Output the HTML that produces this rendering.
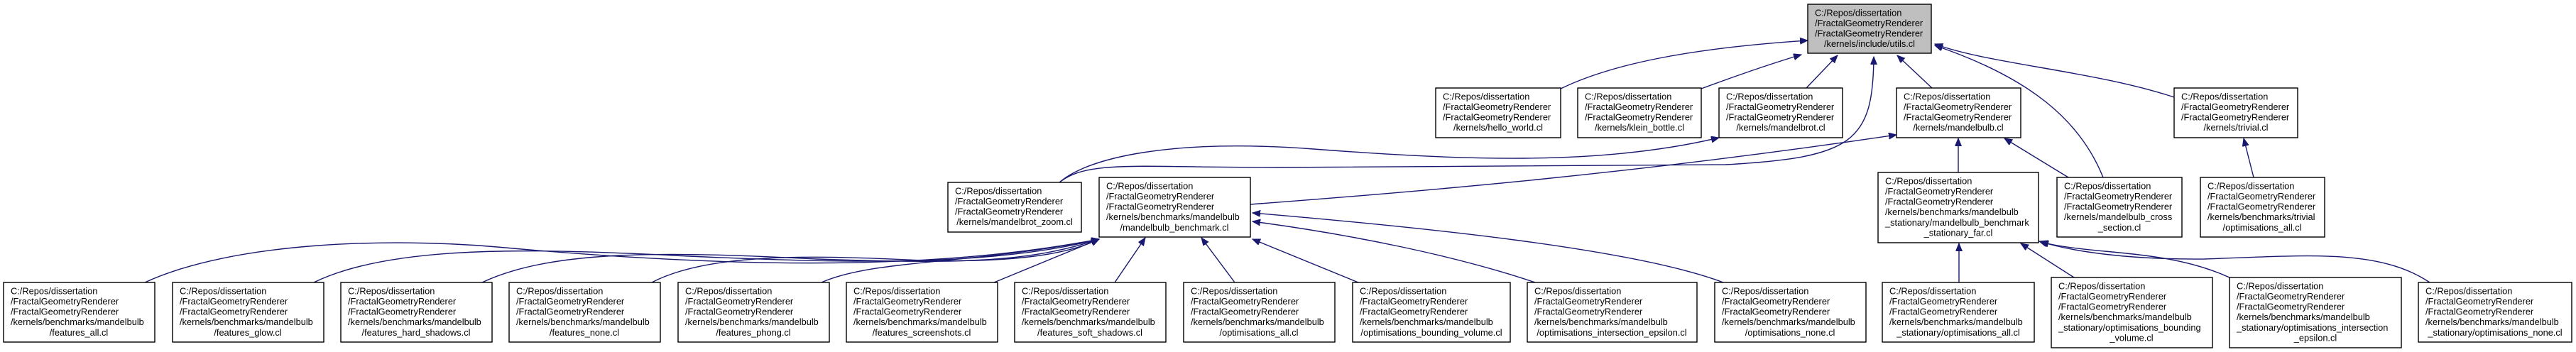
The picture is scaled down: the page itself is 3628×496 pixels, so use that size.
<!DOCTYPE html>
<html><head><meta charset="utf-8"><style>
html,body{margin:0;padding:0;background:#fff;}
svg{display:block;}
text{font-family:"Liberation Sans",Arial,sans-serif;font-size:12.8px;fill:#000;}
.b{fill:#fff;stroke:#000;stroke-width:1.4;}
.e{fill:none;stroke:#191970;stroke-width:1.4;marker-end:url(#a);}
</style></head><body>
<svg width="3628" height="496" viewBox="0 0 3628 496" xmlns="http://www.w3.org/2000/svg">
<defs><marker id="a" markerUnits="userSpaceOnUse" markerWidth="12" markerHeight="10" refX="11" refY="4.5" orient="auto"><path d="M0,0 L11,4.5 L0,9 z" fill="#191970" stroke="#191970"/></marker></defs>

<!-- edges to utils -->
<path class="e" d="M2198,125 C2270,90 2380,68 2546,57"/>
<path class="e" d="M2396,125 C2450,105 2500,88 2537,77"/>
<path class="e" d="M2544,124 L2588,78"/>
<path class="e" d="M2721,124 L2672,78"/>
<path class="e" d="M1491,258 C1530,225 1600,236 1800,236 L2430,232 C2610,222 2638,200 2639,80"/>
<path class="e" d="M2962,250 C2930,170 2860,110 2725,64"/>
<path class="e" d="M3062,137 C2950,100 2800,90 2725,62"/>
<!-- other mid edges -->
<path class="e" d="M1491,258 C1530,222 1650,195 1850,210 C2050,225 2250,235 2421,194"/>
<path class="e" d="M1761,288 C2000,270 2300,245 2671,190"/>
<path class="e" d="M2758,243 L2758,195"/>
<path class="e" d="M2913,250 L2823,195"/>
<path class="e" d="M3174,250 L3160,195"/>
<!-- bottom to stationary far -->
<path class="e" d="M2759,398 L2759,343"/>
<path class="e" d="M2921,391 L2846,343"/>
<path class="e" d="M3140,391 C3050,350 2950,360 2874,341"/>
<path class="e" d="M3422,398 C3350,350 3250,360 3105,365 C3000,366 2920,355 2872,340"/>
<!-- bottom to benchmark -->
<path class="e" d="M204,398 C330,340 550,335 700,348 C1000,375 1300,385 1548,337"/>
<path class="e" d="M442,398 C550,345 750,350 950,360 C1200,372 1400,375 1548,337"/>
<path class="e" d="M679,398 C780,350 950,355 1150,365 C1350,372 1450,370 1548,337"/>
<path class="e" d="M918,398 C1000,355 1150,360 1300,367 C1420,370 1500,360 1548,337"/>
<path class="e" d="M1157,398 C1230,365 1380,372 1548,337"/>
<path class="e" d="M1400,398 L1548,337"/>
<path class="e" d="M1570,398 L1613,335"/>
<path class="e" d="M1739,398 L1692,335"/>
<path class="e" d="M1913,398 L1764,337"/>
<path class="e" d="M2162,398 C2050,360 1900,330 1764,312"/>
<path class="e" d="M2427,398 C2300,350 2000,320 1764,300"/>

<!-- nodes -->
<rect x="2546" y="6" width="174" height="69" fill="#bfbfbf" stroke="#000" stroke-width="1.4"/>
<text x="2556" y="22.5">C:/Repos/dissertation</text><text x="2556" y="37">/FractalGeometryRenderer</text><text x="2556" y="51.6">/FractalGeometryRenderer</text><text x="2633" y="66.2" text-anchor="middle">/kernels/include/utils.cl</text>

<g>
<rect class="b" x="2022" y="124" width="176" height="70"/>
<text x="2032" y="140.5">C:/Repos/dissertation</text><text x="2032" y="155">/FractalGeometryRenderer</text><text x="2032" y="169.6">/FractalGeometryRenderer</text><text x="2110" y="184.2" text-anchor="middle">/kernels/hello_world.cl</text>
<rect class="b" x="2222" y="124" width="174" height="70"/>
<text x="2232" y="140.5">C:/Repos/dissertation</text><text x="2232" y="155">/FractalGeometryRenderer</text><text x="2232" y="169.6">/FractalGeometryRenderer</text><text x="2309" y="184.2" text-anchor="middle">/kernels/klein_bottle.cl</text>
<rect class="b" x="2421" y="124" width="174" height="70"/>
<text x="2431" y="140.5">C:/Repos/dissertation</text><text x="2431" y="155">/FractalGeometryRenderer</text><text x="2431" y="169.6">/FractalGeometryRenderer</text><text x="2508" y="184.2" text-anchor="middle">/kernels/mandelbrot.cl</text>
<rect class="b" x="2671" y="124" width="175" height="70"/>
<text x="2681" y="140.5">C:/Repos/dissertation</text><text x="2681" y="155">/FractalGeometryRenderer</text><text x="2681" y="169.6">/FractalGeometryRenderer</text><text x="2758" y="184.2" text-anchor="middle">/kernels/mandelbulb.cl</text>
<rect class="b" x="3062" y="124" width="174" height="70"/>
<text x="3072" y="140.5">C:/Repos/dissertation</text><text x="3072" y="155">/FractalGeometryRenderer</text><text x="3072" y="169.6">/FractalGeometryRenderer</text><text x="3149" y="184.2" text-anchor="middle">/kernels/trivial.cl</text>
</g>

<g>
<rect class="b" x="1335" y="257" width="188" height="70"/>
<text x="1345" y="273.5">C:/Repos/dissertation</text><text x="1345" y="288">/FractalGeometryRenderer</text><text x="1345" y="302.6">/FractalGeometryRenderer</text><text x="1429" y="317.2" text-anchor="middle">/kernels/mandelbrot_zoom.cl</text>
<rect class="b" x="1548" y="250" width="213" height="84"/>
<text x="1558" y="266.5">C:/Repos/dissertation</text><text x="1558" y="281">/FractalGeometryRenderer</text><text x="1558" y="295.6">/FractalGeometryRenderer</text><text x="1558" y="310.2">/kernels/benchmarks/mandelbulb</text><text x="1654" y="324.8" text-anchor="middle">/mandelbulb_benchmark.cl</text>
<rect class="b" x="2645" y="243" width="226" height="99"/>
<text x="2655" y="259.5">C:/Repos/dissertation</text><text x="2655" y="274">/FractalGeometryRenderer</text><text x="2655" y="288.6">/FractalGeometryRenderer</text><text x="2655" y="303.2">/kernels/benchmarks/mandelbulb</text><text x="2655" y="317.8">_stationary/mandelbulb_benchmark</text><text x="2758" y="332.4" text-anchor="middle">_stationary_far.cl</text>
<rect class="b" x="2897" y="250" width="176" height="84"/>
<text x="2907" y="266.5">C:/Repos/dissertation</text><text x="2907" y="281">/FractalGeometryRenderer</text><text x="2907" y="295.6">/FractalGeometryRenderer</text><text x="2907" y="310.2">/kernels/mandelbulb_cross</text><text x="2985" y="324.8" text-anchor="middle">_section.cl</text>
<rect class="b" x="3099" y="250" width="175" height="84"/>
<text x="3109" y="266.5">C:/Repos/dissertation</text><text x="3109" y="281">/FractalGeometryRenderer</text><text x="3109" y="295.6">/FractalGeometryRenderer</text><text x="3109" y="310.2">/kernels/benchmarks/trivial</text><text x="3186" y="324.8" text-anchor="middle">/optimisations_all.cl</text>
</g>

<g>
<rect class="b" x="5" y="398" width="213" height="84"/>
<text x="15" y="414.5">C:/Repos/dissertation</text><text x="15" y="429">/FractalGeometryRenderer</text><text x="15" y="443.6">/FractalGeometryRenderer</text><text x="15" y="458.2">/kernels/benchmarks/mandelbulb</text><text x="111" y="472.8" text-anchor="middle">/features_all.cl</text>
<rect class="b" x="243" y="398" width="213" height="84"/>
<text x="253" y="414.5">C:/Repos/dissertation</text><text x="253" y="429">/FractalGeometryRenderer</text><text x="253" y="443.6">/FractalGeometryRenderer</text><text x="253" y="458.2">/kernels/benchmarks/mandelbulb</text><text x="349" y="472.8" text-anchor="middle">/features_glow.cl</text>
<rect class="b" x="480" y="398" width="213" height="84"/>
<text x="490" y="414.5">C:/Repos/dissertation</text><text x="490" y="429">/FractalGeometryRenderer</text><text x="490" y="443.6">/FractalGeometryRenderer</text><text x="490" y="458.2">/kernels/benchmarks/mandelbulb</text><text x="586" y="472.8" text-anchor="middle">/features_hard_shadows.cl</text>
<rect class="b" x="717" y="398" width="213" height="84"/>
<text x="727" y="414.5">C:/Repos/dissertation</text><text x="727" y="429">/FractalGeometryRenderer</text><text x="727" y="443.6">/FractalGeometryRenderer</text><text x="727" y="458.2">/kernels/benchmarks/mandelbulb</text><text x="823" y="472.8" text-anchor="middle">/features_none.cl</text>
<rect class="b" x="955" y="398" width="213" height="84"/>
<text x="965" y="414.5">C:/Repos/dissertation</text><text x="965" y="429">/FractalGeometryRenderer</text><text x="965" y="443.6">/FractalGeometryRenderer</text><text x="965" y="458.2">/kernels/benchmarks/mandelbulb</text><text x="1061" y="472.8" text-anchor="middle">/features_phong.cl</text>
<rect class="b" x="1192" y="398" width="213" height="84"/>
<text x="1202" y="414.5">C:/Repos/dissertation</text><text x="1202" y="429">/FractalGeometryRenderer</text><text x="1202" y="443.6">/FractalGeometryRenderer</text><text x="1202" y="458.2">/kernels/benchmarks/mandelbulb</text><text x="1298" y="472.8" text-anchor="middle">/features_screenshots.cl</text>
<rect class="b" x="1429" y="398" width="213" height="84"/>
<text x="1439" y="414.5">C:/Repos/dissertation</text><text x="1439" y="429">/FractalGeometryRenderer</text><text x="1439" y="443.6">/FractalGeometryRenderer</text><text x="1439" y="458.2">/kernels/benchmarks/mandelbulb</text><text x="1535" y="472.8" text-anchor="middle">/features_soft_shadows.cl</text>
<rect class="b" x="1667" y="398" width="213" height="84"/>
<text x="1677" y="414.5">C:/Repos/dissertation</text><text x="1677" y="429">/FractalGeometryRenderer</text><text x="1677" y="443.6">/FractalGeometryRenderer</text><text x="1677" y="458.2">/kernels/benchmarks/mandelbulb</text><text x="1773" y="472.8" text-anchor="middle">/optimisations_all.cl</text>
<rect class="b" x="1905" y="398" width="222" height="84"/>
<text x="1915" y="414.5">C:/Repos/dissertation</text><text x="1915" y="429">/FractalGeometryRenderer</text><text x="1915" y="443.6">/FractalGeometryRenderer</text><text x="1915" y="458.2">/kernels/benchmarks/mandelbulb</text><text x="2016" y="472.8" text-anchor="middle">/optimisations_bounding_volume.cl</text>
<rect class="b" x="2151" y="398" width="239" height="84"/>
<text x="2161" y="414.5">C:/Repos/dissertation</text><text x="2161" y="429">/FractalGeometryRenderer</text><text x="2161" y="443.6">/FractalGeometryRenderer</text><text x="2161" y="458.2">/kernels/benchmarks/mandelbulb</text><text x="2270" y="472.8" text-anchor="middle">/optimisations_intersection_epsilon.cl</text>
<rect class="b" x="2415" y="398" width="213" height="84"/>
<text x="2425" y="414.5">C:/Repos/dissertation</text><text x="2425" y="429">/FractalGeometryRenderer</text><text x="2425" y="443.6">/FractalGeometryRenderer</text><text x="2425" y="458.2">/kernels/benchmarks/mandelbulb</text><text x="2521" y="472.8" text-anchor="middle">/optimisations_none.cl</text>
<rect class="b" x="2651" y="398" width="214" height="84"/>
<text x="2661" y="414.5">C:/Repos/dissertation</text><text x="2661" y="429">/FractalGeometryRenderer</text><text x="2661" y="443.6">/FractalGeometryRenderer</text><text x="2661" y="458.2">/kernels/benchmarks/mandelbulb</text><text x="2758" y="472.8" text-anchor="middle">_stationary/optimisations_all.cl</text>
<rect class="b" x="2889" y="391" width="227" height="99"/>
<text x="2899" y="407.5">C:/Repos/dissertation</text><text x="2899" y="422">/FractalGeometryRenderer</text><text x="2899" y="436.6">/FractalGeometryRenderer</text><text x="2899" y="451.2">/kernels/benchmarks/mandelbulb</text><text x="2899" y="465.8">_stationary/optimisations_bounding</text><text x="3002" y="480.4" text-anchor="middle">_volume.cl</text>
<rect class="b" x="3140" y="391" width="242" height="99"/>
<text x="3150" y="407.5">C:/Repos/dissertation</text><text x="3150" y="422">/FractalGeometryRenderer</text><text x="3150" y="436.6">/FractalGeometryRenderer</text><text x="3150" y="451.2">/kernels/benchmarks/mandelbulb</text><text x="3150" y="465.8">_stationary/optimisations_intersection</text><text x="3261" y="480.4" text-anchor="middle">_epsilon.cl</text>
<rect class="b" x="3406" y="398" width="216" height="84"/>
<text x="3416" y="414.5">C:/Repos/dissertation</text><text x="3416" y="429">/FractalGeometryRenderer</text><text x="3416" y="443.6">/FractalGeometryRenderer</text><text x="3416" y="458.2">/kernels/benchmarks/mandelbulb</text><text x="3514" y="472.8" text-anchor="middle">_stationary/optimisations_none.cl</text>
</g>
</svg>
</body></html>
